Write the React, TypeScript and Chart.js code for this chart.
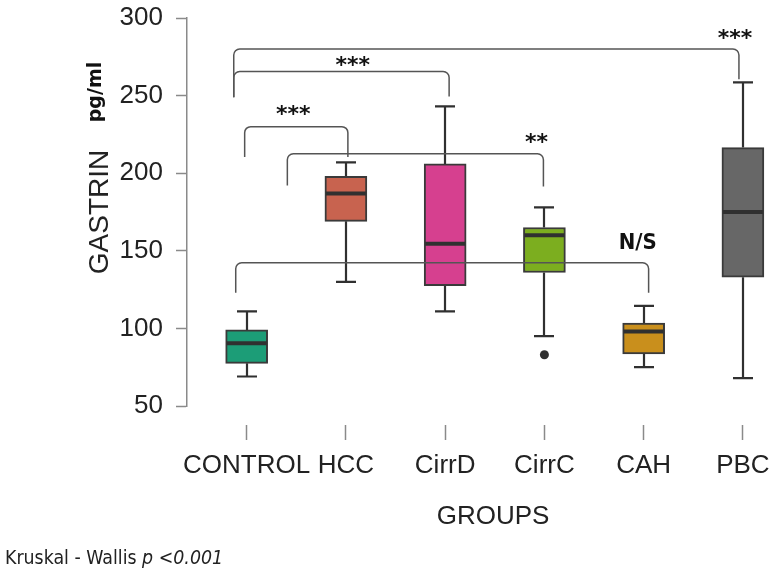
import React, { useEffect, useRef } from 'react';
import { Chart, registerables } from 'chart.js';

Chart.register(...registerables);

// Gastrin (pg/ml) five-number summaries per patient group
const GROUPS = ['CONTROL', 'HCC', 'CirrD', 'CirrC', 'CAH', 'PBC'];
const LOWER_WHISKER = [69, 130, 111, 95, 75, 68];
const Q1 = [77.5, 169, 127.5, 136, 83.5, 133];
const MEDIAN = [90.5, 187, 154.5, 160, 98, 175];
const Q3 = [99, 198, 206, 165, 103.5, 216.5];
const UPPER_WHISKER = [111, 207, 243, 178, 114.5, 258.5];
const OUTLIER_GROUP = [3];
const OUTLIER_VALUE = [83];
const Y_TICKS = [50, 100, 150, 200, 250, 300];

// Pairwise comparison brackets (group index, gastrin level)
const PAIR_LABEL = ['***', '***', '***', '**', 'N/S'];
const PAIR_FROM = [-0.13, -0.13, -0.02, 0.41, -0.11];
const PAIR_TO = [4.96, 2.04, 1.02, 2.99, 4.05];
const PAIR_LEVEL = [280, 265.5, 230, 212.5, 142.3];
const PAIR_FROM_DROP = [249, 249, 210.5, 192, 123];
const PAIR_TO_DROP = [260.5, 249.5, 210.5, 191.5, 123];
const PAIR_LABEL_AT = [4.92, 1.07, 0.47, 2.92, 3.94];
const PAIR_LABEL_VALUE = [290.5, 273, 242, 223.5, 156];

const BOX_COLORS = ['#1c9d77', '#c8634f', '#d6408f', '#7cae1f', '#c98f1c', '#676767'];
const INK = '#303030';
const AXIS_GREY = '#8a8a8a';
const SANS = '"Liberation Sans", Arial, sans-serif';
const VERDANA_LIKE = '"DejaVu Sans", Verdana, sans-serif';

const X_MIN = -0.601;
const X_MAX = 5.278;
const CAP_HALF = 10;

const boxplotPlugin = {
  id: 'boxplotExtras',
  beforeDatasetsDraw(chart: any) {
    const { ctx, scales } = chart;
    const x = scales.x;
    const y = scales.y;
    ctx.save();
    ctx.strokeStyle = INK;
    ctx.lineWidth = 2.2;
    GROUPS.forEach((_, i) => {
      const cx = Math.round(x.getPixelForValue(i));
      const lo = y.getPixelForValue(LOWER_WHISKER[i]);
      const hi = y.getPixelForValue(UPPER_WHISKER[i]);
      const q1 = y.getPixelForValue(Q1[i]);
      const q3 = y.getPixelForValue(Q3[i]);
      ctx.beginPath();
      ctx.moveTo(cx, lo);
      ctx.lineTo(cx, q1);
      ctx.moveTo(cx, q3);
      ctx.lineTo(cx, hi);
      ctx.moveTo(cx - CAP_HALF, lo);
      ctx.lineTo(cx + CAP_HALF, lo);
      ctx.moveTo(cx - CAP_HALF, hi);
      ctx.lineTo(cx + CAP_HALF, hi);
      ctx.stroke();
    });
    ctx.restore();
  },
  afterDatasetsDraw(chart: any) {
    const { ctx, scales } = chart;
    const x = scales.x;
    const y = scales.y;
    const meta = chart.getDatasetMeta(0);
    ctx.save();
    // medians
    ctx.strokeStyle = INK;
    ctx.lineWidth = 4;
    meta.data.forEach((bar: any, i: number) => {
      const { x: bx, width } = bar.getProps(['x', 'width'], true);
      const my = y.getPixelForValue(MEDIAN[i]);
      ctx.beginPath();
      ctx.moveTo(bx - width / 2 + 1, my);
      ctx.lineTo(bx + width / 2 - 1, my);
      ctx.stroke();
    });

    // comparison brackets
    ctx.strokeStyle = '#555555';
    ctx.lineWidth = 1.5;
    const r = 6;
    PAIR_LABEL.forEach((_, k) => {
      const x1 = x.getPixelForValue(PAIR_FROM[k]);
      const x2 = x.getPixelForValue(PAIR_TO[k]);
      const yl = y.getPixelForValue(PAIR_LEVEL[k]);
      const y1 = y.getPixelForValue(PAIR_FROM_DROP[k]);
      const y2 = y.getPixelForValue(PAIR_TO_DROP[k]);
      ctx.beginPath();
      ctx.moveTo(x1, y1);
      ctx.arcTo(x1, yl, x2, yl, r);
      ctx.arcTo(x2, yl, x2, y2, r);
      ctx.lineTo(x2, y2);
      ctx.stroke();
    });

    // significance labels
    ctx.fillStyle = '#111111';
    ctx.textAlign = 'center';
    ctx.textBaseline = 'alphabetic';
    PAIR_LABEL.forEach((label, k) => {
      const lx = x.getPixelForValue(PAIR_LABEL_AT[k]);
      const ly = y.getPixelForValue(PAIR_LABEL_VALUE[k]);
      const size = 22;
      const isStars = label.indexOf('*') >= 0;
      ctx.save();
      ctx.translate(lx, ly + (isStars ? 0.57 : 0.36) * size);
      if (!isStars) ctx.scale(0.9, 1);
      ctx.font = `bold ${size}px ${VERDANA_LIKE}`;
      ctx.fillText(label, 0, 0);
      ctx.restore();
    });
    ctx.restore();
  },
  afterDraw(chart: any) {
    const { ctx } = chart;
    ctx.save();
    ctx.fillStyle = '#222222';

    // y-axis titles
    ctx.save();
    ctx.translate(108, 212);
    ctx.rotate(-Math.PI / 2);
    ctx.font = `28px ${SANS}`;
    ctx.textAlign = 'center';
    ctx.textBaseline = 'alphabetic';
    ctx.fillText('GASTRIN', 0, 0);
    ctx.restore();

    ctx.save();
    ctx.translate(101, 92);
    ctx.rotate(-Math.PI / 2);
    ctx.fillStyle = '#111111';
    ctx.font = `bold 19px ${VERDANA_LIKE}`;
    ctx.textAlign = 'center';
    ctx.textBaseline = 'alphabetic';
    ctx.fillText('pg/ml', 0, 0);
    ctx.restore();

    // x-axis title
    ctx.font = `26px ${SANS}`;
    ctx.textAlign = 'center';
    ctx.textBaseline = 'alphabetic';
    ctx.fillText('GROUPS', 493, 524);

    // test note
    ctx.save();
    ctx.translate(5, 564);
    ctx.scale(0.87, 1);
    ctx.textAlign = 'left';
    ctx.font = `20px ${VERDANA_LIKE}`;
    const first = 'Kruskal - Wallis ';
    ctx.fillText(first, 0, 0);
    const w = ctx.measureText(first).width;
    ctx.font = `italic 20px ${VERDANA_LIKE}`;
    ctx.fillText('p <0.001', w, 0);
    ctx.restore();

    ctx.restore();
  },
};

export default function App() {
  const canvasRef = useRef<HTMLCanvasElement | null>(null);

  useEffect(() => {
    const canvas = canvasRef.current;
    if (!canvas) return;
    const chart = new Chart(canvas, {
      type: 'bar',
      data: {
        datasets: [
          {
            type: 'bar',
            data: GROUPS.map((_, i) => ({ x: i, y: [Q1[i], Q3[i]] })) as any,
            backgroundColor: BOX_COLORS,
            borderColor: '#3a3a3a',
            borderWidth: 2,
            borderSkipped: false,
            barThickness: 42,
          },
          {
            type: 'scatter',
            data: OUTLIER_GROUP.map((g, i) => ({ x: g, y: OUTLIER_VALUE[i] })) as any,
            pointRadius: 4.5,
            pointBackgroundColor: INK,
            pointBorderWidth: 0,
          } as any,
        ],
      },
      options: {
        responsive: false,
        animation: false,
        devicePixelRatio: 1,
        layout: { padding: { left: 0, right: 0, top: 18, bottom: 0 } },
        plugins: { legend: { display: false }, tooltip: { enabled: false } },
        scales: {
          x: {
            type: 'linear',
            min: X_MIN,
            max: X_MAX,
            offset: false,
            afterBuildTicks: (s: any) => {
              s.ticks = GROUPS.map((_, i) => ({ value: i }));
            },
            afterFit: (s: any) => {
              s.height = 169;
              s.paddingLeft = 0;
              s.paddingRight = 0;
            },
            ticks: {
              callback: (v: any) => GROUPS[v as number],
              font: { family: SANS, size: 26 },
              color: '#222222',
              padding: 10,
              maxRotation: 0,
              autoSkip: false,
            },
            grid: {
              offset: false,
              drawOnChartArea: false,
              drawTicks: true,
              tickLength: 34,
              tickColor: AXIS_GREY,
              tickWidth: 1.5,
              tickBorderDash: [0, 19, 15],
            },
            border: { display: false },
          },
          y: {
            type: 'linear',
            min: 50,
            max: 300,
            afterBuildTicks: (s: any) => {
              s.ticks = Y_TICKS.map((v) => ({ value: v }));
            },
            afterFit: (s: any) => {
              s.width = 187;
              s.paddingTop = 0;
              s.paddingBottom = 0;
            },
            ticks: {
              font: { family: SANS, size: 26 },
              color: '#222222',
              padding: 13,
            },
            grid: {
              drawOnChartArea: false,
              drawTicks: true,
              tickLength: 11,
              tickColor: AXIS_GREY,
              tickWidth: 1.5,
            },
            border: { display: true, color: AXIS_GREY, width: 1.5 },
          },
        },
      },
      plugins: [boxplotPlugin],
    });
    return () => chart.destroy();
  }, []);

  return (
    <div style={{ position: 'absolute', left: 0, top: 0, width: 775, height: 575, background: '#ffffff' }}>
      <canvas ref={canvasRef} width={775} height={575} />
    </div>
  );
}
